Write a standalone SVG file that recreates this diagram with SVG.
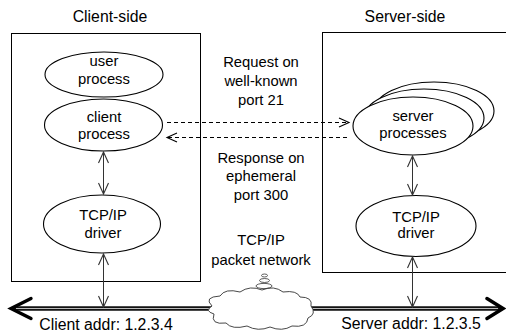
<svg xmlns="http://www.w3.org/2000/svg" width="506" height="334" viewBox="0 0 506 334">
  <style>
    text { font-family: "Liberation Sans", Arial, sans-serif; fill: #000; text-anchor: middle; }
    .t { font-size: 14.8px; }
    .h { font-size: 15.8px; }
    .box { fill: #fff; stroke: #000; stroke-width: 1; }
    .node { fill: #fff; stroke: #000; stroke-width: 1.1; }
    .link { fill: none; stroke: #333; stroke-width: 1; }
    .dash { fill: none; stroke: #000; stroke-width: 1; stroke-dasharray: 4 3; }
    .head { fill: none; stroke: #000; stroke-width: 1.1; }
    .bus { fill: none; stroke: #111; stroke-width: 4.6; }
    .busgap { fill: none; stroke: #bbb; stroke-width: 1.2; }
    .chev { fill: none; stroke: #000; stroke-width: 3.4; stroke-linecap: round; stroke-linejoin: miter; }
  </style>
  <defs>
    <marker id="v" viewBox="0 0 13 11" refX="12" refY="5.5" markerWidth="13" markerHeight="11" markerUnits="userSpaceOnUse" orient="auto-start-reverse">
      <path d="M1,0.5 L12,5.5 L1,10.5" fill="none" stroke="#333" stroke-width="1.1"/>
    </marker>
  </defs>

  <rect fill="#fff" x="0" y="0" width="506" height="334"/>

  <!-- side frames -->
  <g id="client-side">
    <rect class="box" x="11.5" y="33.5" width="189" height="248"/>
    <text class="h" x="110" y="22">Client-side</text>
  </g>
  <g id="server-side">
    <rect class="box" x="322.5" y="32.5" width="190" height="240"/>
    <text class="h" x="405" y="22">Server-side</text>
  </g>

  <!-- processes and drivers -->
  <g id="user-process">
    <ellipse class="node" cx="104" cy="74.5" rx="59" ry="22.5"/>
    <text class="t" x="104" y="66">user</text>
    <text class="t" x="104" y="83.5">process</text>
  </g>
  <g id="client-process">
    <ellipse class="node" cx="103.5" cy="125" rx="59" ry="26"/>
    <text class="t" x="104" y="121.5">client</text>
    <text class="t" x="104" y="138.5">process</text>
  </g>
  <g id="client-driver">
    <ellipse class="node" cx="102" cy="224" rx="58.5" ry="29"/>
    <text class="t" x="103" y="220">TCP/IP</text>
    <text class="t" x="103" y="237.5">driver</text>
  </g>
  <g id="server-processes">
    <ellipse class="node" cx="434" cy="111" rx="60" ry="29"/>
    <ellipse class="node" cx="424" cy="118" rx="60" ry="29"/>
    <ellipse class="node" cx="413" cy="126" rx="60" ry="29"/>
    <text class="t" x="413" y="120.5">server</text>
    <text class="t" x="413" y="138">processes</text>
  </g>
  <g id="server-driver">
    <ellipse class="node" cx="416" cy="226" rx="60" ry="30.5"/>
    <text class="t" x="416" y="221.5">TCP/IP</text>
    <text class="t" x="416" y="238">driver</text>
  </g>

  <!-- network -->
  <g id="network">
    <path class="bus" d="M13,308.5 H212 M311,308.5 H501"/>
    <path class="busgap" d="M16,308.5 H212 M311,308.5 H498"/>
    <path class="chev" d="M31,298.5 L11,308.5 L31,318.5"/>
    <path class="chev" d="M487,298.5 L503,308.5 L487,318.5"/>
    <path d="M212,306 Q203,297 220,296 Q225,288 240,292 Q250,285 262,290 Q274,285 283,292 Q297,290 300,297 Q313,297 311,306 Q317,314 308,318 Q307,328 292,326 Q282,332 270,327 Q258,332 247,326 Q232,330 226,323 Q210,325 214,314 Q204,311 212,306 Z" fill="#fff" stroke="#333" stroke-width="0.9"/>
    <ellipse cx="264.5" cy="275.5" rx="3" ry="1.5" fill="none" stroke="#333" stroke-width="0.8"/>
    <ellipse cx="264.5" cy="280.5" rx="5" ry="2" fill="none" stroke="#333" stroke-width="0.8"/>
    <ellipse cx="264" cy="286" rx="8" ry="2.6" fill="none" stroke="#333" stroke-width="0.8"/>
    <text class="t" x="261" y="245">TCP/IP</text>
    <text class="t" x="261" y="265">packet network</text>
    <text class="h" x="106" y="330">Client addr: 1.2.3.4</text>
    <text class="h" x="411" y="329">Server addr: 1.2.3.5</text>
  </g>

  <!-- connectors -->
  <g id="connectors">
    <line class="link" x1="103.5" y1="152" x2="103.5" y2="194" marker-start="url(#v)" marker-end="url(#v)"/>
    <line class="link" x1="103.5" y1="254" x2="103.5" y2="307" marker-start="url(#v)" marker-end="url(#v)"/>
    <line class="link" x1="412.5" y1="156" x2="412.5" y2="195" marker-start="url(#v)" marker-end="url(#v)"/>
    <line class="link" x1="412.5" y1="257" x2="412.5" y2="307" marker-start="url(#v)" marker-end="url(#v)"/>

    <line class="dash" x1="167" y1="122.5" x2="348" y2="122.5"/>
    <path class="head" d="M339,118 L349,122.5 L339,127"/>
    <line class="dash" x1="168" y1="137.5" x2="348" y2="137.5"/>
    <path class="head" d="M177,133 L167,137.5 L177,142"/>

    <text class="t" x="261" y="67">Request on</text>
    <text class="t" x="261" y="86">well-known</text>
    <text class="t" x="261" y="105">port 21</text>
    <text class="t" x="261" y="163">Response on</text>
    <text class="t" x="261" y="181">ephemeral</text>
    <text class="t" x="261" y="200">port 300</text>
  </g>
</svg>
